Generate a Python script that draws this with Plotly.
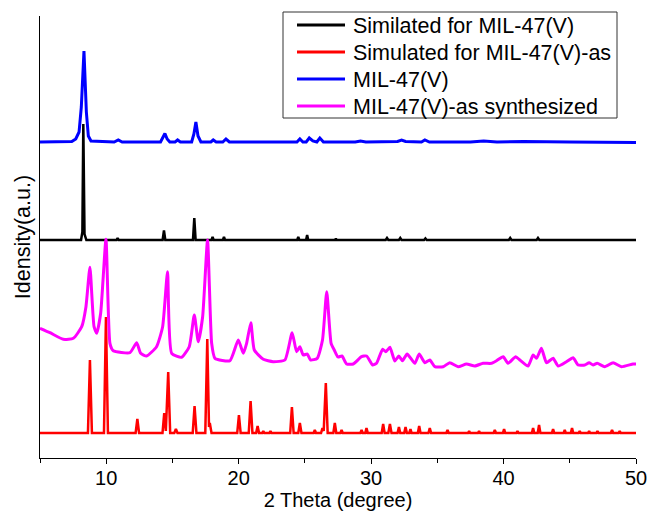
import plotly.graph_objects as go

# ---- data (intensities in a.u. relative to each trace's own baseline) ----
series_names = ["Similated for MIL-47(V)", "Simulated for MIL-47(V)-as",
                "MIL-47(V)", "MIL-47(V)-as synthesized"]
series_offsets = [218, 25, 316, 90]

black_pts = [(5, 0), (8.1, 0), (8.2, 8), (8.27, 116), (8.36, 6), (8.5, 0), (10.78, 0), (10.86, 2),
             (10.94, 0), (14.26, 0), (14.36, 9.5), (14.46, 0), (16.55, 0), (16.65, 22), (16.75, 0),
             (17.95, 0), (18.03, 3), (18.11, 0), (18.81, 0), (18.89, 3), (18.97, 0), (24.42, 0),
             (24.5, 3), (24.58, 0), (25.09, 0), (25.17, 5), (25.25, 0), (27.28, 0), (27.34, 1.5),
             (27.4, 0), (31.1, 0), (31.2, 2), (31.3, 0), (32.1, 0), (32.2, 2), (32.3, 0), (34.0, 0),
             (34.1, 1.5), (34.2, 0), (40.4, 0), (40.5, 2), (40.6, 0), (42.5, 0), (42.6, 2),
             (42.7, 0), (50, 0)]

red_pts = [(5, 0), (8.62, 0), (8.77, 73), (8.92, 0), (9.83, 0), (9.98, 116), (10.13, 0), (12.22, 0),
           (12.35, 14), (12.48, 0), (14.25, 0), (14.38, 20), (14.5, 2), (14.68, 61), (14.83, 0),
           (15.14, 0), (15.26, 4), (15.38, 0), (16.53, 0), (16.67, 27), (16.81, 0), (17.48, 0),
           (17.63, 94), (17.76, 6), (17.82, 10), (17.95, 0), (19.89, 0), (20.02, 18), (20.15, 0),
           (20.76, 0), (20.9, 32), (21.04, 0), (21.32, 0), (21.43, 7), (21.54, 0), (21.78, 0),
           (21.86, 2), (21.94, 0), (22.32, 0), (22.4, 2), (22.48, 0), (23.89, 0), (24.02, 26),
           (24.15, 0), (24.5, 0), (24.62, 10), (24.74, 0), (25.66, 0), (25.75, 3), (25.84, 0),
           (26.22, 0), (26.33, 5), (26.42, 2), (26.58, 50), (26.72, 0), (27.15, 0), (27.26, 10),
           (27.37, 0), (27.68, 0), (27.77, 3), (27.86, 0), (29.19, 0), (29.28, 3), (29.37, 0),
           (29.56, 0), (29.65, 5), (29.75, 0), (30.8, 0), (30.91, 9), (31.02, 0), (31.3, 0),
           (31.42, 9), (31.54, 0), (32.0, 0), (32.1, 6), (32.2, 0), (32.5, 0), (32.6, 6), (32.7, 0),
           (32.88, 0), (32.97, 4), (33.06, 0), (33.53, 0), (33.63, 7), (33.73, 0), (34.33, 0),
           (34.43, 5), (34.53, 0), (35.68, 0), (35.77, 3), (35.86, 0), (37.32, 0), (37.4, 2),
           (37.48, 0), (38.07, 0), (38.15, 2), (38.23, 0), (39.25, 0), (39.34, 3), (39.43, 0),
           (39.95, 0), (40.04, 4), (40.13, 0), (40.97, 0), (41.05, 2), (41.13, 0), (42.14, 0),
           (42.23, 5), (42.32, 0), (42.58, 0), (42.68, 8), (42.78, 0), (43.65, 0), (43.74, 4),
           (43.83, 0), (44.54, 0), (44.62, 3), (44.7, 0), (45.08, 0), (45.17, 5), (45.26, 0),
           (45.67, 0), (45.75, 2), (45.83, 0), (46.38, 0), (46.46, 2), (46.54, 0), (47.01, 0),
           (47.09, 2), (47.17, 0), (48.1, 0), (48.19, 3), (48.28, 0), (48.69, 0), (48.77, 2),
           (48.85, 0), (50, 0)]

blue_pts = [(5, 0), (7.4, 0.5), (7.7, 3), (7.95, 10), (8.12, 35), (8.32, 91), (8.5, 30), (8.65, 6),
            (8.85, 1), (10.6, 0), (10.91, 2), (11.2, 0), (14.1, 0), (14.28, 4), (14.43, 8.5),
            (14.6, 3), (14.8, 0), (15.2, 0), (15.39, 2), (15.6, 0), (16.45, 0), (16.62, 8),
            (16.77, 20), (16.93, 6), (17.15, 0), (17.9, 0), (18.08, 2), (18.3, 0), (18.8, 0),
            (19.04, 3), (19.3, 0), (24.4, 0), (24.62, 3), (24.85, 0), (25.1, 0), (25.33, 4),
            (25.6, 1), (25.9, 0), (26.13, 4), (26.4, 0), (28.8, 0), (29.2, 1), (29.6, 0),
            (32.0, 0.5), (32.3, 2), (32.6, 0.5), (33.8, 0), (34.06, 2), (34.4, 0), (37.5, 0),
            (38.5, 1), (39.5, 0), (41.5, 0.5), (45, 0), (50, -0.5)]

magenta_pts = [(5, 39.7), (5.75, 35.3), (6.76, 28.7), (7.52, 29.7), (8.15, 41.3), (8.47, 61.3),
               (8.77, 100.7), (9.08, 41.3), (9.28, 34.7), (9.58, 54.7), (9.98, 128.7), (10.28, 24.7),
               (10.53, 17.3), (11.79, 15.3), (12.3, 25.3), (12.6, 14.7), (13.05, 12), (13.8, 21.3),
               (14.26, 41.3), (14.63, 96.3), (14.94, 14.7), (15.69, 10.7), (16.27, 21.3), (16.65, 53),
               (16.95, 26.3), (17.28, 51.3), (17.65, 128), (17.96, 24.7), (18.21, 9.7), (19.34, 7.3),
               (19.97, 28), (20.35, 14.7), (20.6, 24.7), (20.92, 45.3), (21.18, 18), (21.86, 8.7),
               (22.6, 6.3), (23.49, 8), (24.04, 35.3), (24.37, 16.3), (24.62, 21.3), (24.87, 13),
               (25.18, 14), (25.43, 8), (25.93, 9.7), (26.33, 28), (26.65, 76.3), (26.98, 24.7),
               (27.22, 18), (27.5, 11), (27.8, 12), (28.15, 4), (28.65, 4), (29.28, 11.3), (29.66, 12),
               (30.11, 3), (30.41, 4.7), (30.87, 18.7), (31.11, 16.3), (31.42, 20.7), (31.79, 7),
               (32.09, 12), (32.37, 7.3), (32.72, 14), (33.3, 4.7), (33.63, 14), (34.06, 5.3),
               (34.43, 8), (34.81, 1.3), (35.44, 1.3), (35.94, 5.3), (36.57, 1.3), (37.2, 4),
               (37.83, 2), (38.45, 4.7), (39.09, 4.7), (39.47, 7.3), (39.97, 11.3), (40.34, 4.7),
               (40.92, 11.3), (41.23, 8), (41.85, 2), (42.23, 13), (42.49, 9.7), (42.86, 19.7),
               (43.24, 5.3), (43.74, 9.7), (44.12, 2), (44.75, 6.3), (45.25, 10.3), (45.63, 3),
               (46.13, 3), (46.46, 5.3), (46.76, 3), (47.07, 4.7), (47.64, 1.3), (48.27, 5.3),
               (48.9, 1.3), (49.78, 4), (50, 4)]

x_tick_values = [10, 20, 30, 40, 50]
x_minor_tick_values = [5, 15, 25, 35, 45]

# ---- figure ----
series_pts = [black_pts, red_pts, blue_pts, magenta_pts]
colors = ["#000000", "#ff0000", "#0000ff", "#ff00ff"]
widths = [2.5, 2.5, 3, 3]
shapes = ["linear", "linear", "linear", "spline"]

W, H = 649, 517
ML, MR, MT, MB = 40, 13, 16, 59
PW, PH = W - ML - MR, H - MT - MB


def px_x(px):
    return (px - ML) / PW


def px_y(py):
    return (H - MB - py) / PH


fig = go.Figure()
for name, pts, off, c, w, sh in zip(series_names, series_pts, series_offsets, colors, widths, shapes):
    xs = [p[0] for p in pts]
    ys = [p[1] + off for p in pts]
    line = dict(color=c, width=w, shape=sh)
    if sh == "spline":
        line["smoothing"] = 0.5
    fig.add_trace(go.Scatter(x=xs, y=ys, mode="lines", name=name, line=line, showlegend=False))

font_family = "Liberation Sans, Arial, sans-serif"

# legend drawn as a boxed key (matches the reference's compact box)
legend_shapes = [dict(type="rect", xref="paper", yref="paper",
                      x0=px_x(283), x1=px_x(617), y0=px_y(118), y1=px_y(12),
                      line=dict(color="#333333", width=1), fillcolor="white", layer="above")]
legend_annots = []
entry_rows = [25, 52, 79, 106]
for name, c, row in zip(series_names, colors, entry_rows):
    legend_shapes.append(dict(type="line", xref="paper", yref="paper",
                              x0=px_x(297), x1=px_x(345), y0=px_y(row), y1=px_y(row),
                              line=dict(color=c, width=3), layer="above"))
    legend_annots.append(dict(text=name, xref="paper", yref="paper", x=px_x(351), y=px_y(row + 1),
                              xanchor="left", yanchor="middle", showarrow=False,
                              font=dict(size=21.5, family=font_family, color="black")))

fig.update_layout(
    width=W, height=H,
    margin=dict(l=ML, r=MR, t=MT, b=MB, autoexpand=False),
    paper_bgcolor="white", plot_bgcolor="white",
    font=dict(family=font_family, size=20, color="black"),
    showlegend=False,
    shapes=legend_shapes,
    annotations=legend_annots,
    xaxis=dict(range=[5, 50], tickvals=x_tick_values, ticks="outside", ticklen=5,
               tickwidth=1, tickcolor="black", showline=True, linecolor="black", linewidth=1,
               showgrid=False, zeroline=False, automargin=False, ticklabelstandoff=-3,
               minor=dict(tickvals=x_minor_tick_values, ticks="outside", ticklen=4, tickcolor="black"),
               tickfont=dict(size=20),
               title=dict(text="2 Theta (degree)", font=dict(size=20), standoff=3)),
    yaxis=dict(range=[0, 442], showticklabels=False, ticks="", showline=True, linecolor="black",
               linewidth=1, showgrid=False, zeroline=False, automargin=False,
               title=dict(text="Idensity(a.u.)", font=dict(size=21.5), standoff=2)),
)
fig.write_html("out.html", config={"displayModeBar": False},
               post_script="document.body.style.margin='0px';")
